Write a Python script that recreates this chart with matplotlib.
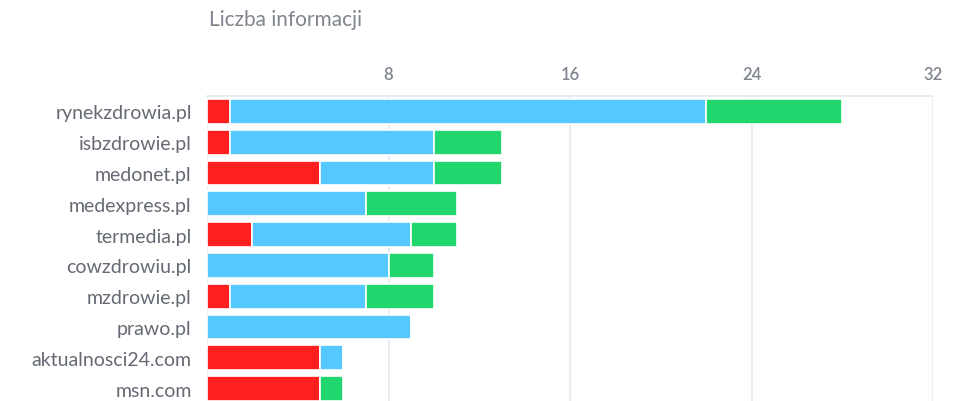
import numpy as np
import matplotlib.pyplot as plt

plt.rcParams['font.family'] = ['Lato', 'DejaVu Sans']

# data
sites = ['rynekzdrowia.pl', 'isbzdrowie.pl', 'medonet.pl', 'medexpress.pl', 'termedia.pl',
         'cowzdrowiu.pl', 'mzdrowie.pl', 'prawo.pl', 'aktualnosci24.com', 'msn.com']
negative = [1, 1, 5, 0, 2, 0, 1, 0, 5, 5]
neutral = [21, 9, 5, 7, 7, 8, 6, 9, 1, 0]
positive = [6, 3, 3, 4, 2, 2, 3, 0, 0, 1]
xticks = [8, 16, 24, 32]

colors = ['#ff1f1f', '#55c8ff', '#22d66e']
grid_color = '#e3eaf0'
text_color = '#80858f'

fig = plt.figure(figsize=(9.63, 4.02), dpi=100)
ax = fig.add_axes([207 / 963, -3 / 402, 726 / 963, 308 / 402])

y = np.arange(len(sites))
left = np.zeros(len(sites))
for vals, c in zip([negative, neutral, positive], colors):
    vals = np.array(vals, dtype=float)
    ax.barh(y, vals, left=left, height=0.8, color=c, edgecolor='white',
            linewidth=1.2, zorder=3)
    left += vals

ax.set_xlim(0, 32)
ax.set_ylim(len(sites) - 0.5, -0.5)
ax.set_yticks(y)
ax.set_yticklabels(sites, fontsize=14, color='#646973')
ax.set_xticks(xticks)
ax.set_xticklabels([str(t) for t in xticks], fontsize=12, color=text_color,
                   fontweight='semibold')
ax.xaxis.tick_top()
ax.tick_params(axis='both', length=0)
ax.tick_params(axis='x', pad=10)
ax.tick_params(axis='y', pad=11)

for s in ['bottom', 'right', 'left']:
    ax.spines[s].set_visible(False)
ax.spines['top'].set_color(grid_color)
ax.spines['top'].set_linewidth(1.2)
ax.grid(axis='x', color=grid_color, linewidth=1.2, zorder=0)
ax.axvline(0, color=grid_color, linewidth=1.2, zorder=0)

fig.text(209 / 963, 1 - 20 / 402, 'Liczba informacji', fontsize=15, color=text_color,
         va='center', ha='left')

fig.savefig('out.png', dpi=100)
